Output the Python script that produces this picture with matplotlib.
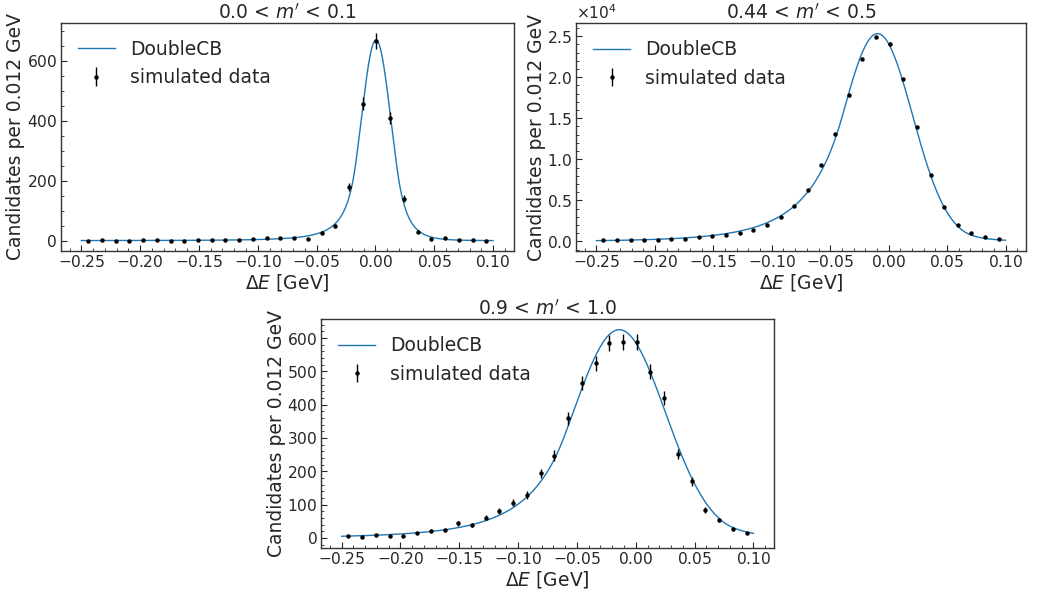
import numpy as np
import matplotlib
matplotlib.use("Agg")
import matplotlib.pyplot as plt
from matplotlib.ticker import MultipleLocator, AutoMinorLocator

# ---------------- data ----------------
bin_lo, bin_hi, n_bins = -0.25, 0.10, 30
titles = [r"0.0 < $m'$ < 0.1", r"0.44 < $m'$ < 0.5", r"0.9 < $m'$ < 1.0"]

counts_1 = [0, 1, 0, 0, 2, 1, 0, 0, 1, 1, 2, 1, 4, 8, 8, 9, 6, 27, 49, 180,
            457, 666, 408, 140, 30, 6, 8, 1, 3, 0]
counts_2 = [150, 150, 160, 200, 200, 280, 360, 530, 610, 810, 1050, 1420, 2030,
            2920, 4290, 6240, 9360, 13120, 17780, 22240, 24870, 24100, 19760,
            13930, 8100, 4210, 1980, 1010, 530, 280]
counts_3 = [7, 4, 9, 6, 7, 15, 21, 23, 44, 39, 61, 80, 106, 129, 194, 247, 359,
            465, 524, 585, 589, 587, 499, 420, 252, 170, 84, 54, 26, 15]

# DoubleCB fit parameters: peak, mu, sigma, alphaL, nL, alphaR, nR
fit_1 = dict(peak=670.0, mu=0.0005, sigma=0.0125, aL=1.4, nL=3.0, aR=1.5, nR=10.0)
fit_2 = dict(peak=25300.0, mu=-0.0095, sigma=0.030, aL=1.0, nL=8.0, aR=2.4, nR=4.0)
fit_3 = dict(peak=625.0, mu=-0.014, sigma=0.039, aL=1.2, nL=6.0, aR=2.2, nR=5.0)

y_major_steps = [200, 0.5e4, 100]

xlabel = r"$\Delta E$ [GeV]"
ylabel = "Candidates per 0.012 GeV"


def double_cb(x, peak, mu, sigma, aL, nL, aR, nR):
    t = (x - mu) / sigma
    y = np.exp(-0.5 * t ** 2)
    AL = (nL / aL) ** nL * np.exp(-0.5 * aL ** 2)
    BL = nL / aL - aL
    AR = (nR / aR) ** nR * np.exp(-0.5 * aR ** 2)
    BR = nR / aR - aR
    left = t < -aL
    right = t > aR
    y[left] = AL * (BL - t[left]) ** (-nL)
    y[right] = AR * (BR + t[right]) ** (-nR)
    return peak * y


plt.rcParams["axes.formatter.use_mathtext"] = True
plt.rcParams["axes.formatter.limits"] = [-3, 4]
plt.rcParams["font.family"] = ["DejaVu Sans"]
text_col = "#262626"

fig = plt.figure(figsize=(10.37, 5.96), dpi=100)
W, H = 1037.0, 596.0
boxes = [(60.7, 23.0, 513.7, 251.0), (576.0, 23.3, 1026.0, 251.0), (321.0, 319.3, 774.0, 547.7)]

edges = np.linspace(bin_lo, bin_hi, n_bins + 1)
centers = 0.5 * (edges[:-1] + edges[1:])
xc = np.linspace(bin_lo, bin_hi, 600)

for (l, t, r, b), counts, fit, title, ystep in zip(
        boxes, [counts_1, counts_2, counts_3], [fit_1, fit_2, fit_3], titles, y_major_steps):
    ax = fig.add_axes([l / W, (H - b) / H, (r - l) / W, (b - t) / H])
    c = np.array(counts, dtype=float)
    ax.plot(xc, double_cb(xc, **fit), color="#1f77b4", lw=1.0, label="DoubleCB")
    ax.errorbar(centers, c, yerr=np.sqrt(c), fmt="o", ms=2.2, color="black",
                ecolor="black", elinewidth=1.0, capsize=0, label="simulated data")
    ax.set_title(title, fontsize=13.5, color=text_col, pad=3)
    ax.set_xlabel(xlabel, fontsize=13.5, color=text_col, labelpad=1)
    ax.set_ylabel(ylabel, fontsize=13.5, color=text_col, labelpad=1)
    ax.yaxis.set_major_locator(MultipleLocator(ystep))
    ax.xaxis.set_minor_locator(AutoMinorLocator(5))
    ax.yaxis.set_minor_locator(AutoMinorLocator(5 if ystep != 200 else 4))
    ax.tick_params(which="both", direction="in", top=False, right=False,
                   labelsize=11.2, colors=text_col, labelcolor=text_col, pad=2.5)
    ax.tick_params(which="major", length=4)
    ax.tick_params(which="minor", length=2)
    for s in ax.spines.values():
        s.set_color("#333333")
        s.set_linewidth(1.0)
    ax.yaxis.get_offset_text().set_fontsize(11.2)
    ax.yaxis.get_offset_text().set_color(text_col)
    ax.legend(loc="upper left", frameon=False, fontsize=13.5, handlelength=2.0,
              labelcolor=text_col, borderaxespad=0.5)

fig.savefig("out.png", dpi=100)
